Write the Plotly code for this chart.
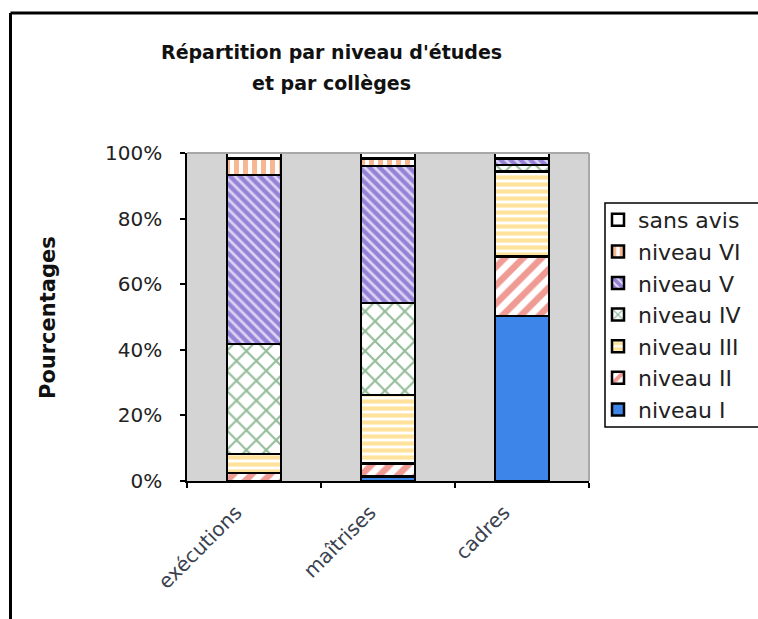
import plotly.graph_objects as go

categories = ["exécutions", "maîtrises", "cadres"]
series_names = ["niveau I", "niveau II", "niveau III", "niveau IV", "niveau V", "niveau VI", "sans avis"]
niveau_I = [0.0, 1.3, 50.3]
niveau_II = [2.5, 4.1, 18.1]
niveau_III = [5.8, 20.8, 25.9]
niveau_IV = [33.4, 28.0, 2.0]
niveau_V = [51.6, 41.8, 2.1]
niveau_VI = [5.1, 2.4, 0.0]
sans_avis = [1.6, 1.6, 1.6]
y_ticks = [0, 20, 40, 60, 80, 100]
y_tick_labels = ["0%", "20%", "40%", "60%", "80%", "100%"]

values = [niveau_I, niveau_II, niveau_III, niveau_IV, niveau_V, niveau_VI, sans_avis]

styles = [
    dict(color="#3d85e8", pattern=dict(shape="")),
    dict(color="white", pattern=dict(shape="/", fgcolor="#e0382a", bgcolor="white", size=13, solidity=0.5)),
    dict(color="white", pattern=dict(shape="-", fgcolor="#ffc83c", bgcolor="white", size=7, solidity=0.6)),
    dict(color="white", pattern=dict(shape="x", fgcolor="#2a7a36", bgcolor="white", size=14, solidity=0.28)),
    dict(color="#dcd4f5", pattern=dict(shape="\\", fgcolor="#5030b8", bgcolor="#dcd4f5", size=7, solidity=0.62)),
    dict(color="white", pattern=dict(shape="|", fgcolor="#f07028", bgcolor="white", size=9, solidity=0.55)),
    dict(color="white", pattern=dict(shape="")),
]

FONT = "DejaVu Sans, Verdana, sans-serif"

fig = go.Figure()
n = len(series_names)
for i, (name, vals, st) in enumerate(zip(series_names, values, styles)):
    fig.add_trace(go.Bar(
        x=categories, y=vals, name=name, legendgroup=name, legendrank=n - i,
        marker=dict(color=st["color"], pattern=st["pattern"], line=dict(color="black", width=2.5)),
        width=0.4,
    ))

W, H = 758, 619

plot_l, plot_r, plot_t, plot_b = 187, 589, 153, 481
ml, mr, mt, mb = plot_l, W - plot_r, plot_t, H - plot_b
pw, ph = plot_r - plot_l, plot_b - plot_t

def px_x(p):
    return (p - plot_l) / pw

def px_y(p):
    return (plot_b - p) / ph

fig.update_layout(
    width=W, height=H,
    margin=dict(l=ml, r=mr, t=mt, b=mb, pad=0),
    barmode="stack",
    paper_bgcolor="white",
    plot_bgcolor="#d4d4d4",
    font=dict(family=FONT, color="#222222"),
    showlegend=True,
    legend=dict(
        x=px_x(598), xanchor="left", y=px_y(199), yanchor="top",
        bgcolor="rgba(0,0,0,0)", borderwidth=0,
        font=dict(family=FONT, size=22, color="#222222"),
        traceorder="grouped", tracegroupgap=0,
    ),
    xaxis=dict(
        type="category", tickson="boundaries",
        showline=True, linecolor="black", linewidth=1.5,
        ticks="outside", ticklen=5, tickcolor="black", tickwidth=1.5,
        tickangle=-45, tickfont=dict(family=FONT, size=20, color="#3a4250"),
        ticklabelstandoff=10, ticklabelshift=-18,
        showgrid=False, zeroline=False,
    ),
    yaxis=dict(
        range=[0, 100], tickvals=y_ticks, ticktext=y_tick_labels,
        showline=True, linecolor="black", linewidth=1.5,
        ticks="outside", ticklen=5, tickcolor="black", tickwidth=1.5,
        tickfont=dict(family=FONT, size=20, color="#222222"),
        ticklabelstandoff=14,
        showgrid=False, zeroline=False,
    ),
    annotations=[
        dict(text="<b>Répartition par niveau d'études</b>", xref="paper", yref="paper",
             x=px_x(331), y=px_y(52), xanchor="center", yanchor="middle", showarrow=False,
             font=dict(family=FONT, size=19, color="#111111")),
        dict(text="<b>et par collèges</b>", xref="paper", yref="paper",
             x=px_x(331), y=px_y(83), xanchor="center", yanchor="middle", showarrow=False,
             font=dict(family=FONT, size=19, color="#111111")),
        dict(text="<b>Pourcentages</b>", xref="paper", yref="paper",
             x=px_x(48), y=px_y(318), xanchor="center", yanchor="middle", showarrow=False,
             textangle=-90, font=dict(family=FONT, size=21, color="#111111")),
    ],
    shapes=[
        dict(type="line", xref="paper", yref="paper", x0=0, x1=1, y0=1, y1=1,
             line=dict(color="#a8a8a8", width=2), layer="above"),
        dict(type="line", xref="paper", yref="paper", x0=1, x1=1, y0=0, y1=1,
             line=dict(color="#a8a8a8", width=2), layer="above"),
        dict(type="rect", xref="paper", yref="paper", x0=px_x(605), x1=px_x(790), y0=px_y(427), y1=px_y(203),
             line=dict(color="black", width=1.5), fillcolor="white", layer="above"),
        dict(type="line", xref="paper", yref="paper", x0=px_x(10.5), x1=px_x(820), y0=px_y(13), y1=px_y(13),
             line=dict(color="black", width=3)),
        dict(type="line", xref="paper", yref="paper", x0=px_x(10.5), x1=px_x(10.5), y0=px_y(13), y1=px_y(700),
             line=dict(color="black", width=3)),
    ],
)

fig.write_html(
    "out.html",
    config={"displayModeBar": False},
    post_script="document.body.style.margin='0';document.body.style.overflow='hidden';",
)
